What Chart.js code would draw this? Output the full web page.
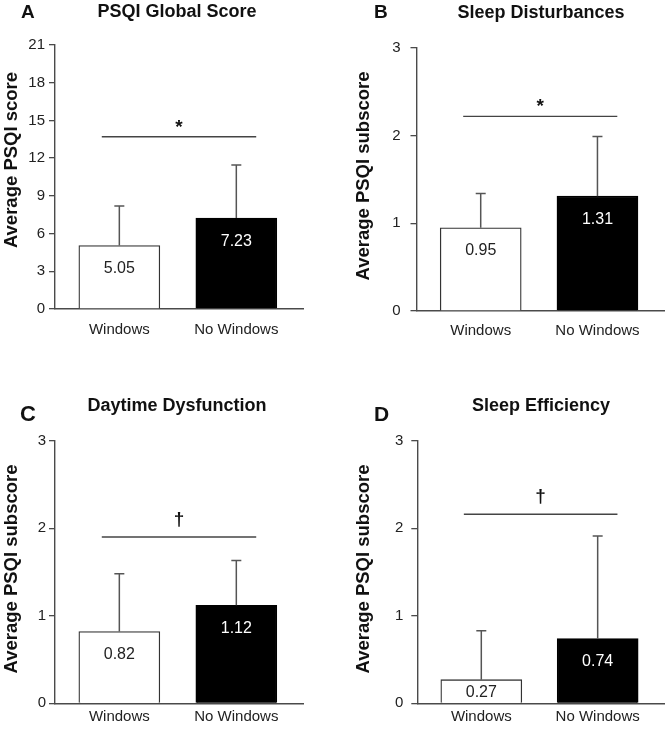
<!DOCTYPE html>
<html>
<head>
<meta charset="utf-8">
<title>PSQI scores by window access</title>
<script src="https://cdn.jsdelivr.net/npm/chart.js@4.4.1/dist/chart.umd.min.js"></script>
<style>
  html, body { margin: 0; padding: 0; background: #fff; }
  #fig { position: relative; width: 666px; height: 730px; overflow: hidden; }
  #fig canvas { position: absolute; }
</style>
</head>
<body>
<div id="fig">
  <canvas id="panelA" width="333" height="345" style="left:0;top:0"></canvas>
  <canvas id="panelB" width="333" height="345" style="left:333px;top:0"></canvas>
  <canvas id="panelC" width="333" height="365" style="left:0;top:365px"></canvas>
  <canvas id="panelD" width="333" height="365" style="left:333px;top:365px"></canvas>
</div>
<script>
// ── data ──────────────────────────────────────────────────
const groups = ['Windows', 'No Windows'];

const globalMeans = [5.05, 7.23];
const globalSD = [3.14, 4.23];
const disturbMeans = [0.95, 1.31];
const disturbSD = [0.39, 0.68];
const daytimeMeans = [0.82, 1.12];
const daytimeSD = [0.66, 0.51];
const efficiencyMeans = [0.27, 0.74];
const efficiencySD = [0.56, 1.17];

const globalTicks = [0, 3, 6, 9, 12, 15, 18, 21];
const subscoreTicks = [0, 1, 2, 3];

// significance brackets: height in score units, marker, x span in group units
const sigLevels = [13.7, 2.22, 1.9, 2.16];
const sigMarks = ['*', '*', '\u2020', '\u2020'];
const sigSpan = [0.85, 2.17];

const FONT = "'Liberation Sans', Arial, sans-serif";
const AXIS = '#4a4a4a';

/* Error bars, value labels, significance bracket and panel texts */
const annotate = {
  id: 'annotate',
  afterDatasetsDraw(chart, args, o) {
    const { ctx, scales: { x, y } } = chart;
    const ds = chart.data.datasets[0];
    const meta = chart.getDatasetMeta(0);
    ctx.save();

    // error bars (upper half only, with cap)
    ctx.strokeStyle = '#555';
    ctx.lineWidth = 1.5;
    meta.data.forEach((bar, i) => {
      const top = y.getPixelForValue(ds.data[i].y + o.sd[i]);
      ctx.beginPath();
      ctx.moveTo(bar.x, bar.y);
      ctx.lineTo(bar.x, top);
      ctx.moveTo(bar.x - 5, top);
      ctx.lineTo(bar.x + 5, top);
      ctx.stroke();
    });

    // mean labels inside the bars
    ctx.font = `16px ${FONT}`;
    ctx.textAlign = 'center';
    ctx.textBaseline = 'middle';
    meta.data.forEach((bar, i) => {
      const ly = Math.min(bar.y + 23, (bar.y + bar.base) / 2 + 1);
      ctx.fillStyle = i === 0 ? '#222' : '#fff';
      ctx.fillText(ds.data[i].y.toFixed(2), bar.x, ly);
    });

    // significance bracket
    const sy = y.getPixelForValue(o.sig);
    const x0 = x.getPixelForValue(sigSpan[0]);
    const x1 = x.getPixelForValue(sigSpan[1]);
    ctx.strokeStyle = '#444';
    ctx.lineWidth = 1.3;
    ctx.beginPath();
    ctx.moveTo(x0, sy);
    ctx.lineTo(x1, sy);
    ctx.stroke();
    ctx.fillStyle = '#111';
    ctx.font = `bold 19px ${FONT}`;
    ctx.textBaseline = 'alphabetic';
    const m = ctx.measureText(o.mark);
    ctx.fillText(o.mark, (x0 + x1) / 2, sy - 10 - m.actualBoundingBoxDescent);
    ctx.restore();
  },
  afterDraw(chart, args, o) {
    const ctx = chart.ctx;
    ctx.save();
    ctx.fillStyle = '#111';
    ctx.textBaseline = 'alphabetic';
    // panel letter
    ctx.font = `bold ${o.letterSize}px ${FONT}`;
    ctx.textAlign = 'left';
    ctx.fillText(o.letter, o.letterAt[0], o.letterAt[1]);
    // panel title
    ctx.font = `bold 18px ${FONT}`;
    ctx.textAlign = 'center';
    ctx.fillText(o.title, o.titleAt[0], o.titleAt[1]);
    // y axis title
    ctx.font = `bold 18.5px ${FONT}`;
    ctx.translate(o.yTitleAt[0], o.yTitleAt[1]);
    ctx.rotate(-Math.PI / 2);
    ctx.textBaseline = 'middle';
    ctx.fillText(o.yTitle, 0, 0);
    ctx.restore();
  }
};

function makePanel(p) {
  const data = p.means.map((v, i) => ({ x: i + 1, y: v }));
  return new Chart(document.getElementById(p.id), {
    type: 'bar',
    data: {
      datasets: [{
        data,
        backgroundColor: ['#fff', '#000'],
        borderColor: ['#333', '#000'],
        borderWidth: 1.3,
        borderSkipped: 'start',
        barThickness: 81
      }]
    },
    options: {
      responsive: false,
      animation: false,
      layout: { padding: { top: p.top, right: p.right, left: 0, bottom: 0 } },
      plugins: {
        legend: { display: false },
        tooltip: { enabled: false },
        annotate: {
          sd: p.sd, sig: p.sig, mark: p.mark,
          letter: p.letter, letterSize: p.letterSize, letterAt: p.letterAt,
          title: p.title, titleAt: p.titleAt,
          yTitle: p.yTitle, yTitleAt: p.yTitleAt
        }
      },
      scales: {
        x: {
          type: 'linear',
          offset: false,
          min: 0.45,
          max: 2.57,
          afterBuildTicks: s => { s.ticks = groups.map((g, i) => ({ value: i + 1 })); },
          afterFit: s => { s.height = p.xHeight; },
          grid: { display: false, drawTicks: false, offset: false },
          border: { color: AXIS, width: 1.4 },
          ticks: {
            padding: p.xPad,
            color: '#222',
            font: { family: FONT, size: 15 },
            callback: v => groups[v - 1]
          }
        },
        y: {
          min: p.ticks[0],
          max: p.ticks[p.ticks.length - 1],
          afterBuildTicks: s => { s.ticks = p.ticks.map(v => ({ value: v })); },
          afterFit: s => { s.width = p.yWidth; },
          grid: { drawOnChartArea: false, drawTicks: true, tickLength: 6, color: AXIS, lineWidth: 1.3 },
          border: { color: AXIS, width: 1.4 },
          ticks: {
            padding: p.yPad,
            color: '#222',
            font: { family: FONT, size: 15 }
          }
        }
      }
    },
    plugins: [annotate]
  });
}

makePanel({
  id: 'panelA', means: globalMeans, sd: globalSD, ticks: globalTicks,
  sig: sigLevels[0], mark: sigMarks[0],
  letter: 'A', letterSize: 19, letterAt: [21, 18],
  title: 'PSQI Global Score', titleAt: [177, 17],
  yTitle: 'Average PSQI score', yTitleAt: [12, 160],
  top: 45, right: 30, yWidth: 55, xHeight: 36, xPad: 12, yPad: 4
});
makePanel({
  id: 'panelB', means: disturbMeans, sd: disturbSD, ticks: subscoreTicks,
  sig: sigLevels[1], mark: sigMarks[1],
  letter: 'B', letterSize: 19, letterAt: [41, 18],
  title: 'Sleep Disturbances', titleAt: [208, 18],
  yTitle: 'Average PSQI subscore', yTitleAt: [31, 176],
  top: 48, right: 2, yWidth: 83.5, xHeight: 34, xPad: 11, yPad: 10
});
makePanel({
  id: 'panelC', means: daytimeMeans, sd: daytimeSD, ticks: subscoreTicks,
  sig: sigLevels[2], mark: sigMarks[2],
  letter: 'C', letterSize: 22, letterAt: [20, 56],
  title: 'Daytime Dysfunction', titleAt: [177, 46],
  yTitle: 'Average PSQI subscore', yTitleAt: [12, 204],
  top: 75.7, right: 30, yWidth: 55, xHeight: 26.7, xPad: 5, yPad: 3
});
makePanel({
  id: 'panelD', means: efficiencyMeans, sd: efficiencySD, ticks: subscoreTicks,
  sig: sigLevels[3], mark: sigMarks[3],
  letter: 'D', letterSize: 21, letterAt: [41, 56],
  title: 'Sleep Efficiency', titleAt: [208, 46],
  yTitle: 'Average PSQI subscore', yTitleAt: [31, 204],
  top: 75.7, right: 2, yWidth: 84.3, xHeight: 26.7, xPad: 5, yPad: 8
});
</script>
</body>
</html>
